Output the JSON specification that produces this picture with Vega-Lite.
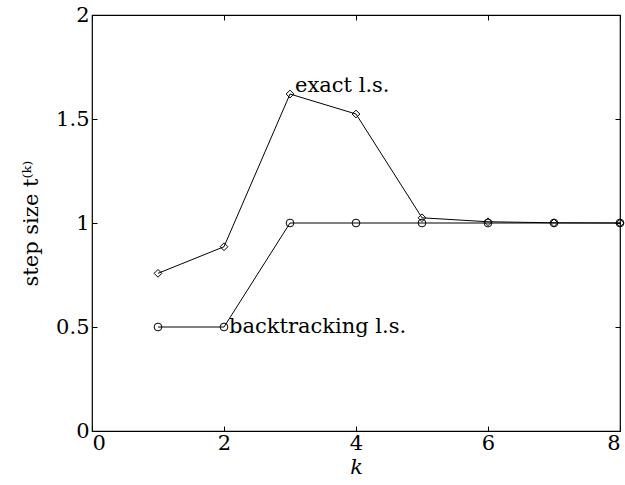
{
  "$schema": "https://vega.github.io/schema/vega-lite/v6.json",
  "width": 528,
  "height": 416,
  "autosize": "none",
  "padding": {"left": 92, "top": 15, "right": 5, "bottom": 54},
  "background": "white",
  "config": {
    "view": {"stroke": "black", "strokeWidth": 1.2},
    "font": "DejaVu Serif",
    "axis": {
      "domain": false, "grid": false,
      "tickColor": "black", "tickSize": -5, "tickWidth": 1,
      "labelFont": "DejaVu Serif", "labelFontSize": 21, "labelColor": "black",
      "titleFont": "DejaVu Serif", "titleFontSize": 21, "titleColor": "black", "titleFontWeight": "normal"
    }
  },
  "data": {"values": [
    {"k": 1, "t": 0.758, "method": "exact"},
    {"k": 2, "t": 0.886, "method": "exact"},
    {"k": 3, "t": 1.62, "method": "exact"},
    {"k": 4, "t": 1.524, "method": "exact"},
    {"k": 5, "t": 1.025, "method": "exact"},
    {"k": 6, "t": 1.006, "method": "exact"},
    {"k": 7, "t": 1.001, "method": "exact"},
    {"k": 8, "t": 1.0, "method": "exact"},
    {"k": 1, "t": 0.5, "method": "backtracking"},
    {"k": 2, "t": 0.5, "method": "backtracking"},
    {"k": 3, "t": 1.0, "method": "backtracking"},
    {"k": 4, "t": 1.0, "method": "backtracking"},
    {"k": 5, "t": 1.0, "method": "backtracking"},
    {"k": 6, "t": 1.0, "method": "backtracking"},
    {"k": 7, "t": 1.0, "method": "backtracking"},
    {"k": 8, "t": 1.0, "method": "backtracking"}
  ]},
  "layer": [
    {
      "mark": {"type": "line", "color": "black", "strokeWidth": 1},
      "encoding": {
        "x": {"field": "k", "type": "quantitative", "scale": {"domain": [0, 8], "nice": false},
              "axis": {"values": [0, 2, 4, 6, 8], "format": "~g", "title": "k", "titleFontStyle": "italic", "labelPadding": 6, "titlePadding": 3}},
        "y": {"field": "t", "type": "quantitative", "scale": {"domain": [0, 2], "nice": false},
              "axis": {"values": [0, 0.5, 1, 1.5, 2], "format": "~g", "title": "step size t⁽ᵏ⁾", "labelPadding": 8, "titlePadding": 14}},
        "detail": {"field": "method"}
      }
    },
    {
      "mark": {"type": "point", "filled": false, "color": "black", "strokeWidth": 1, "size": 60, "opacity": 1},
      "encoding": {
        "x": {"field": "k", "type": "quantitative", "axis": null},
        "y": {"field": "t", "type": "quantitative", "axis": null},
        "shape": {"field": "method", "type": "nominal", "scale": {"domain": ["exact", "backtracking"], "range": ["diamond", "circle"]}, "legend": null}
      }
    },
    {
      "transform": [{"filter": "datum.method == 'exact' && datum.k == 3"}],
      "mark": {"type": "text", "align": "left", "baseline": "middle", "dx": 5, "dy": -8, "fontSize": 21, "font": "DejaVu Serif", "color": "black"},
      "encoding": {
        "x": {"field": "k", "type": "quantitative", "axis": null},
        "y": {"field": "t", "type": "quantitative", "axis": null},
        "text": {"value": "exact l.s."}
      }
    },
    {
      "transform": [{"filter": "datum.method == 'backtracking' && datum.k == 2"}],
      "mark": {"type": "text", "align": "left", "baseline": "middle", "dx": 5, "dy": 0, "fontSize": 21, "font": "DejaVu Serif", "color": "black"},
      "encoding": {
        "x": {"field": "k", "type": "quantitative", "axis": null},
        "y": {"field": "t", "type": "quantitative", "axis": null},
        "text": {"value": "backtracking l.s."}
      }
    },
    {
      "mark": {"type": "point", "opacity": 0},
      "encoding": {
        "x": {"field": "k", "type": "quantitative", "scale": {"domain": [0, 8], "nice": false},
              "axis": {"orient": "top", "values": [0, 2, 4, 6, 8], "labels": false, "title": null}},
        "y": {"field": "t", "type": "quantitative", "scale": {"domain": [0, 2], "nice": false},
              "axis": {"orient": "right", "values": [0, 0.5, 1, 1.5, 2], "labels": false, "title": null}}
      }
    }
  ],
  "resolve": {"axis": {"x": "independent", "y": "independent"}}
}
